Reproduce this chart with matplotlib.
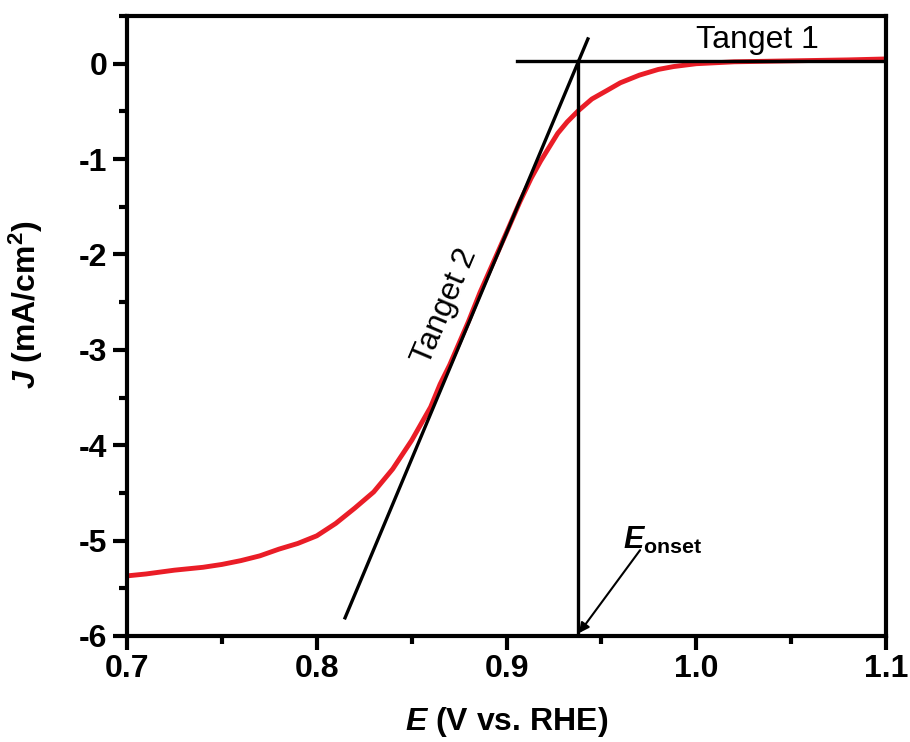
import matplotlib
matplotlib.use("Agg")
import matplotlib.pyplot as plt
from matplotlib.ticker import MultipleLocator

# LSV curve
potential = [0.700, 0.710, 0.725, 0.740, 0.750, 0.760, 0.770, 0.780, 0.790, 0.800,
             0.810, 0.820, 0.830, 0.840, 0.850, 0.860, 0.865, 0.870, 0.880, 0.886,
             0.890, 0.900, 0.907, 0.913, 0.918, 0.927, 0.932, 0.938, 0.945, 0.953,
             0.960, 0.970, 0.980, 0.988, 1.000, 1.020, 1.050, 1.080, 1.100]
current = [-5.37, -5.35, -5.31, -5.28, -5.25, -5.21, -5.16, -5.09, -5.03, -4.95,
           -4.82, -4.66, -4.49, -4.25, -3.95, -3.60, -3.36, -3.16, -2.70, -2.40,
           -2.22, -1.77, -1.45, -1.20, -1.02, -0.73, -0.61, -0.49, -0.37, -0.28,
           -0.20, -0.12, -0.06, -0.03, 0.00, 0.02, 0.03, 0.04, 0.05]

# construction lines
tangent1_x = [0.9055, 1.100]
tangent1_y = [0.03, 0.03]
tangent2_x = [0.8149, 0.9429]
tangent2_y = [-5.81, 0.26]
onset_x = [0.9377, 0.9377]
onset_y = [-6.0, 0.03]

plt.rcParams['font.family'] = ['Liberation Sans', 'DejaVu Sans']
plt.rcParams['mathtext.fontset'] = 'custom'
plt.rcParams['mathtext.rm'] = 'Liberation Sans'
plt.rcParams['mathtext.bf'] = 'Liberation Sans:bold'
plt.rcParams['mathtext.it'] = 'Liberation Sans:italic'
plt.rcParams['mathtext.bfit'] = 'Liberation Sans:bold:italic'

fig = plt.figure(figsize=(9.1, 7.42), dpi=100)
ax = fig.add_axes([0.1396, 0.1429, 0.834, 0.8355])

ax.plot(potential, current, color='#ea1d27', lw=3.5)
ax.plot(tangent1_x, tangent1_y, color='black', lw=2.4)
ax.plot(tangent2_x, tangent2_y, color='black', lw=2.4)
ax.plot(onset_x, onset_y, color='black', lw=2.4)

ax.text(1.0, 0.25, 'Tanget 1', fontsize=23, ha='left', va='center')
ax.text(0.8676, -2.55, 'Tanget 2', fontsize=23, ha='center', va='center',
        rotation=67)

# E onset label and arrow
ax.text(0.9615, -5.0, r'$\mathbfit{E}_{\mathbf{onset}}$', fontsize=22,
        ha='left', va='center')
ax.annotate('', xy=(0.9382, -5.97), xytext=(0.9704, -5.10),
            arrowprops=dict(arrowstyle='-|>', color='black', lw=1.5,
                            mutation_scale=15, shrinkA=0, shrinkB=0))

ax.set_xlim(0.7, 1.1)
ax.set_ylim(-6, 0.5)
ax.xaxis.set_major_locator(MultipleLocator(0.1))
ax.xaxis.set_minor_locator(MultipleLocator(0.05))
ax.yaxis.set_major_locator(MultipleLocator(1))
ax.yaxis.set_minor_locator(MultipleLocator(0.5))
ax.xaxis.set_major_formatter(plt.FuncFormatter(lambda v, p: f'{v:.1f}'))
ax.yaxis.set_major_formatter(plt.FuncFormatter(lambda v, p: f'{v:.0f}'))

for s in ax.spines.values():
    s.set_linewidth(3)
ax.tick_params(which='major', direction='out', length=10, width=3,
               labelsize=23)
ax.tick_params(axis='y', which='major', pad=4)
ax.tick_params(axis='x', which='major', pad=3)
ax.tick_params(which='minor', direction='out', length=6, width=3)
for lab in ax.get_xticklabels() + ax.get_yticklabels():
    lab.set_fontweight('bold')

ax.set_xlabel(r'$\mathbfit{E}$ (V vs. RHE)', fontsize=23, fontweight='bold')
ax.set_ylabel(r'$\mathbfit{J}$ (mA/cm$^\mathbf{2}$)', fontsize=23,
              fontweight='bold')
ax.xaxis.set_label_coords(0.5007, -0.112)
ax.yaxis.set_label_coords(-0.108, 0.534)

fig.savefig('out.png', dpi=100)
